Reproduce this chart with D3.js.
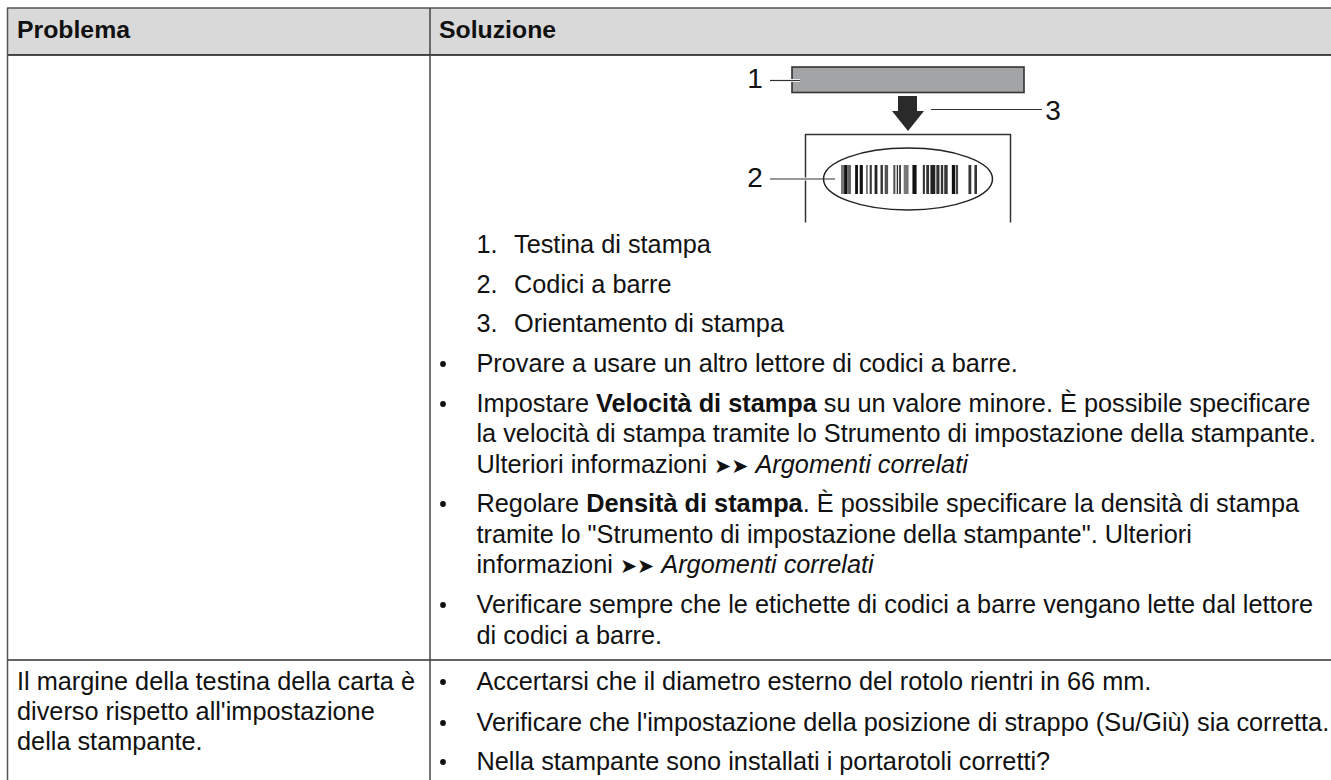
<!DOCTYPE html>
<html>
<head>
<meta charset="utf-8">
<script src="https://cdn.jsdelivr.net/npm/d3@7"></script>
<style>
  html, body { margin: 0; padding: 0; background: #fff; }
  svg { display: block; }
  text { font-family: "Liberation Sans", Arial, sans-serif; fill: #111; }
</style>
</head>
<body>
<script>
const w = 1331;
const h = 780;

const headers = ["Problema", "Soluzione"];
const problemLines = [
  "Il margine della testina della carta è",
  "diverso rispetto all'impostazione",
  "della stampante."
];
const numberedItems = ["Testina di stampa", "Codici a barre", "Orientamento di stampa"];

// each line is a list of [text, style] runs, bullet marks the first line of an item
const solutionLines = [
  { bullet: true, runs: [["Provare a usare un altro lettore di codici a barre.", "n"]] },
  { bullet: true, runs: [["Impostare ", "n"], ["Velocità di stampa", "b"], [" su un valore minore. È possibile specificare", "n"]] },
  { runs: [["la velocità di stampa tramite lo Strumento di impostazione della stampante.", "n"]] },
  { runs: [["Ulteriori informazioni ", "n"], ["➤➤", "a"], [" ", "n"], ["Argomenti correlati", "i"]] },
  { bullet: true, runs: [["Regolare ", "n"], ["Densità di stampa", "b"], [". È possibile specificare la densità di stampa", "n"]] },
  { runs: [["tramite lo \"Strumento di impostazione della stampante\". Ulteriori", "n"]] },
  { runs: [["informazioni ", "n"], ["➤➤", "a"], [" ", "n"], ["Argomenti correlati", "i"]] },
  { bullet: true, runs: [["Verificare sempre che le etichette di codici a barre vengano lette dal lettore", "n"]] },
  { runs: [["di codici a barre.", "n"]] }
];
const secondRowLines = [
  "Accertarsi che il diametro esterno del rotolo rientri in 66 mm.",
  "Verificare che l'impostazione della posizione di strappo (Su/Giù) sia corretta.",
  "Nella stampante sono installati i portarotoli corretti?"
];

// barcode read left to right: bar, gap, bar, gap ...
const barcodeWidths = [3, 0, 3.3, 0, 3.3, 4, 2.7, 1.7, 3, 3.3, 1.3, 2, 2, 2.7, 2.7, 3, 2.3, 1.7, 3.3, 5, 2, 1.3, 1.3, 1, 1.7, 2.7, 4.7, 3.7, 4, 6, 2, 1.3, 2.7, 1.3, 4.7, 1, 3, 1.3, 2.3, 1, 3.3, 4, 3.3, 0.7, 2, 10, 2.7, 3, 2.5];
const barcodeShades = ["#777", "", "#111", "", "#666", "", "#111", "", "#111", "", "#444", "", "#333", "", "#222", "", "#333", "", "#555", "", "#555", "", "#333", "", "#333", "", "#777", "", "#111", "", "#333", "", "#333", "", "#222", "", "#333", "", "#333", "", "#333", "", "#111", "", "#444", "", "#333", "", "#333"];

const fontSize = 25.3;
const lineX = 476.5;
const colX = 430;

const svg = d3.select("body").append("svg").attr("width", w).attr("height", h);

// table frame
svg.append("rect").attr("x", 8).attr("y", 8).attr("width", w - 8).attr("height", 47).style("fill", "#d9d9d9");
const rules = [
  [7, 8, w, 8, "#555"],
  [7, 55, w, 55, "#111"],
  [7, 660, w, 660, "#333"],
  [7.5, 8, 7.5, h, "#555"],
  [colX, 8, colX, h, "#444"]
];
svg.selectAll("line.rule").data(rules).enter().append("line")
   .attr("class", "rule")
   .attr("x1", d => d[0]).attr("y1", d => d[1])
   .attr("x2", d => d[2]).attr("y2", d => d[3])
   .style("stroke", d => d[4])
   .style("stroke-width", 1.5);

svg.selectAll("text.head").data(headers).enter().append("text")
   .attr("class", "head")
   .attr("x", (d, i) => i == 0 ? 17 : 439)
   .attr("y", 38)
   .style("font-size", "24.8px")
   .style("font-weight", "bold")
   .text(d => d);

// left column of the second row
const problemY = [690, 720, 750];
svg.selectAll("text.problem").data(problemLines).enter().append("text")
   .attr("class", "problem")
   .attr("x", 17)
   .attr("y", (d, i) => problemY[i])
   .style("font-size", fontSize + "px")
   .text(d => d);

// numbered list
const numberedY = [253, 293, 332];
svg.selectAll("text.num").data(numberedItems).enter().append("text")
   .attr("class", "num")
   .attr("x", lineX)
   .attr("y", (d, i) => numberedY[i])
   .style("font-size", fontSize + "px")
   .text((d, i) => (i + 1) + ".");
svg.selectAll("text.numitem").data(numberedItems).enter().append("text")
   .attr("class", "numitem")
   .attr("x", 514)
   .attr("y", (d, i) => numberedY[i])
   .style("font-size", fontSize + "px")
   .text(d => d);

// bullet lines
const solutionY = [372, 412, 442, 473, 512, 543, 573, 613, 644];
const lineText = svg.selectAll("text.sol").data(solutionLines).enter().append("text")
   .attr("class", "sol")
   .attr("x", lineX)
   .attr("y", (d, i) => solutionY[i])
   .style("font-size", fontSize + "px");
lineText.selectAll("tspan").data(d => d.runs).enter().append("tspan")
   .style("font-weight", d => d[1] == "b" ? "bold" : "normal")
   .style("font-style", d => d[1] == "i" ? "italic" : "normal")
   .style("font-family", d => d[1] == "a" ? "'DejaVu Sans'" : null)
   .style("font-size", d => d[1] == "a" ? "20.5px" : null)
   .text(d => d[0]);

const secondY = [690, 731, 770];
svg.selectAll("text.second").data(secondRowLines).enter().append("text")
   .attr("class", "second")
   .attr("x", lineX)
   .attr("y", (d, i) => secondY[i])
   .style("font-size", fontSize + "px")
   .text(d => d);

const bulletY = solutionLines.map((d, i) => d.bullet ? solutionY[i] : null).filter(d => d != null).concat(secondY);
svg.selectAll("circle.bullet").data(bulletY).enter().append("circle")
   .attr("class", "bullet")
   .attr("cx", 443)
   .attr("cy", d => d - 8)
   .attr("r", 2.9)
   .style("fill", "#111");

// print head illustration
const fig = svg.append("g");
fig.append("rect").attr("x", 792).attr("y", 67).attr("width", 232).attr("height", 25.5)
   .style("fill", "#a3a4a6").style("stroke", "#333").style("stroke-width", 1.6);
fig.append("path").attr("d", "M898,96H917V111H924L908,131L892,111H898Z").style("fill", "#2a2a2a");
fig.append("path").attr("d", "M805.5,222.5V134.5H1010.5V222.5").style("fill", "none").style("stroke", "#333").style("stroke-width", 1.5);
fig.append("line").attr("x1", 770).attr("x2", 800).attr("y1", 80.5).attr("y2", 80.5).style("stroke", "#fff").style("stroke-width", 3);
fig.append("line").attr("x1", 770).attr("x2", 835).attr("y1", 179).attr("y2", 179).style("stroke", "#fff").style("stroke-width", 3);
fig.append("ellipse").attr("cx", 908).attr("cy", 179).attr("rx", 84.5).attr("ry", 31)
   .style("fill", "#fff").style("stroke", "#222").style("stroke-width", 1.5);
const leaders = [[770, 800, 80.5], [770, 835, 179], [931, 1042, 109.5]];
fig.selectAll("line.leader").data(leaders).enter().append("line")
   .attr("class", "leader")
   .attr("x1", d => d[0]).attr("x2", d => d[1])
   .attr("y1", d => d[2]).attr("y2", d => d[2])
   .style("stroke", "#333").style("stroke-width", 1.2);
fig.selectAll("text.callout").data(["1", "2", "3"]).enter().append("text")
   .attr("class", "callout")
   .attr("x", (d, i) => [755, 755, 1053][i])
   .attr("y", (d, i) => [88, 187, 120][i])
   .attr("text-anchor", "middle")
   .style("font-size", "28px")
   .text(d => d);

// barcode
const barEdges = d3.cumsum([0].concat(barcodeWidths));
const barX = d3.scaleLinear().domain([0, d3.sum(barcodeWidths)]).range([841, 977]);
const bars = barcodeWidths.map((d, i) => ({ start: barEdges[i], width: d, shade: barcodeShades[i] })).filter(d => d.shade && d.width > 0);
fig.selectAll("rect.bar").data(bars).enter().append("rect")
   .attr("class", "bar")
   .attr("x", d => barX(d.start))
   .attr("y", 165)
   .attr("width", d => barX(d.start + d.width) - barX(d.start))
   .attr("height", 29)
   .style("fill", d => d.shade);
</script>
</body>
</html>
